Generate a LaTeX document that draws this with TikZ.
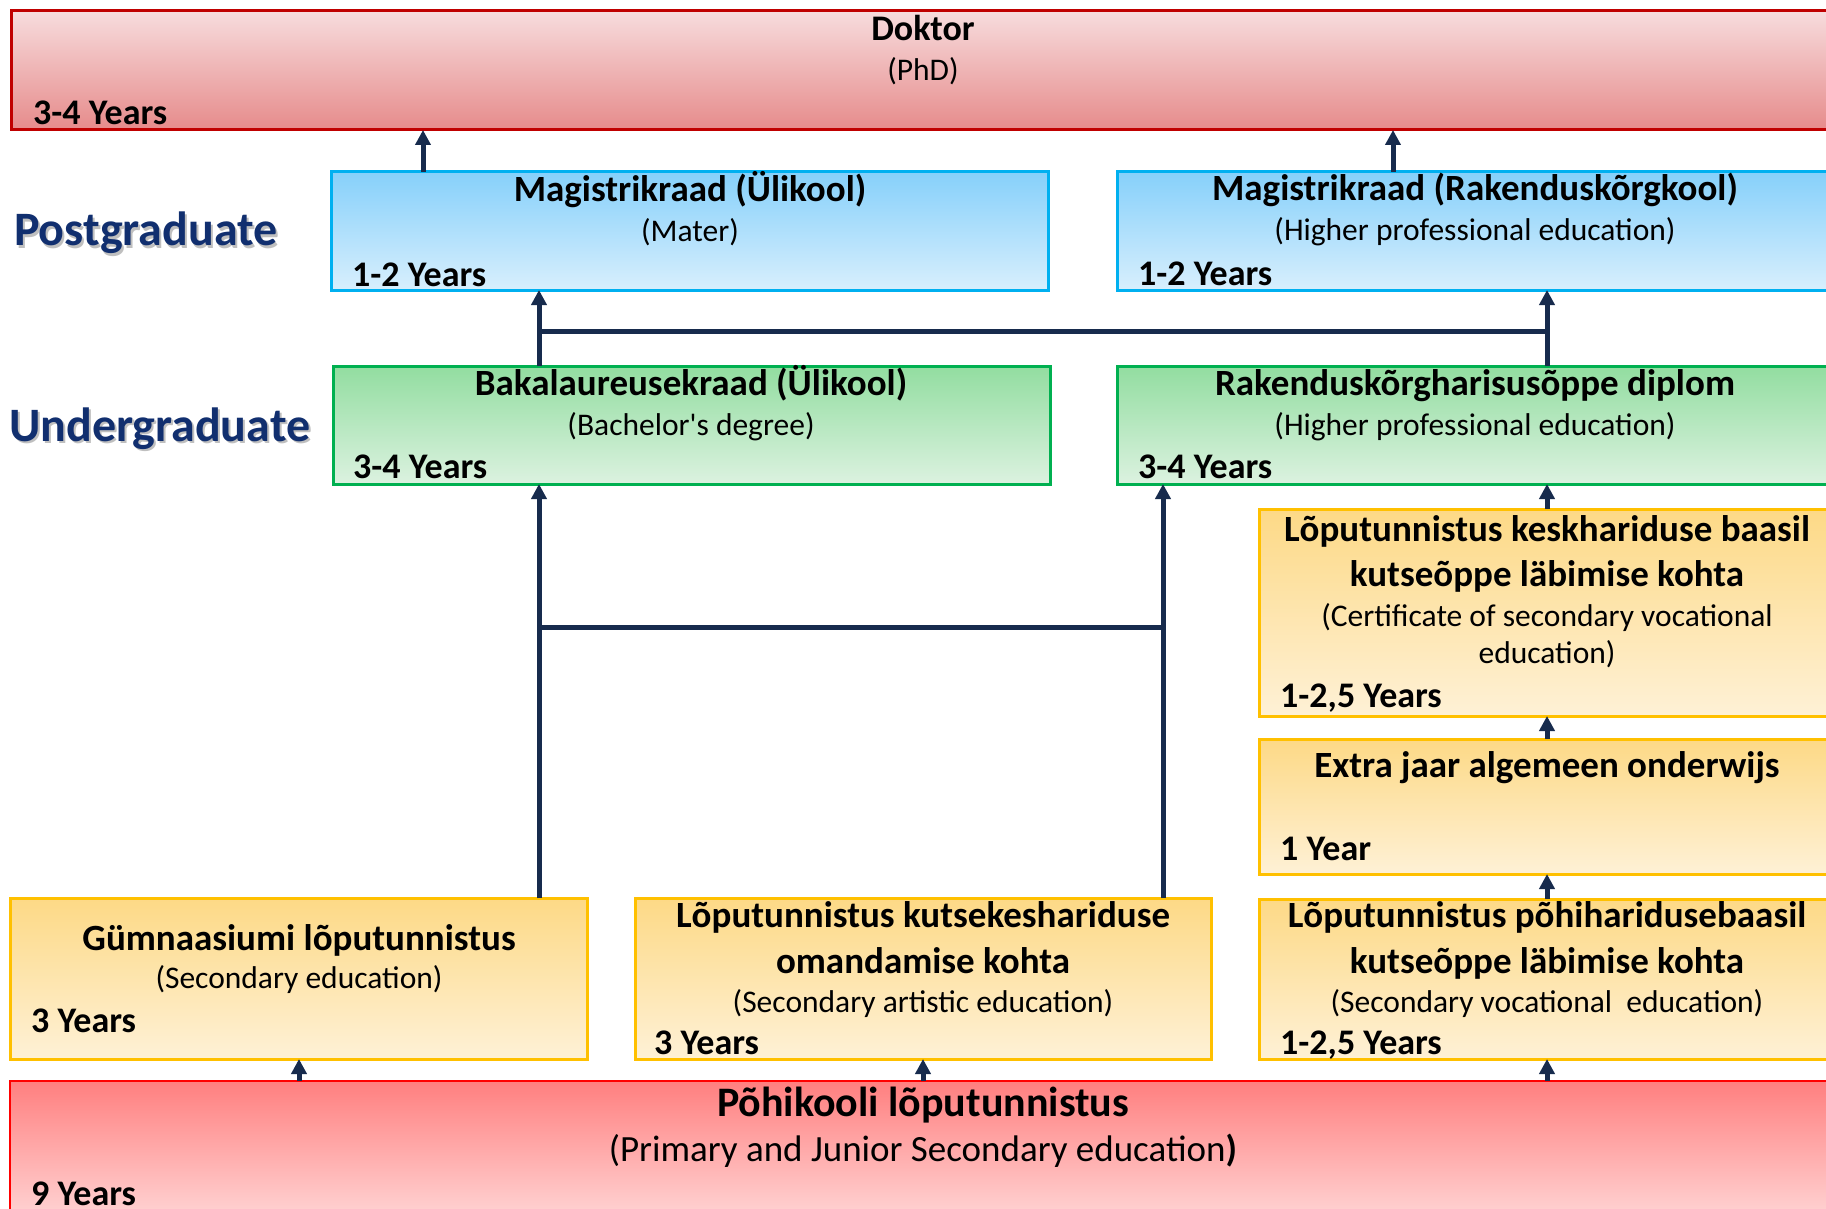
\documentclass[tikz,border=0pt]{standalone}
\usepackage{fontspec}
\setmainfont{Carlito}
\usetikzlibrary{arrows.meta}
\definecolor{navyline}{HTML}{172B4D}
\definecolor{dred}{HTML}{C00000}
\definecolor{dtop}{HTML}{F7DCDD}
\definecolor{dbot}{HTML}{E68B8B}
\definecolor{bline}{HTML}{00B0F0}
\definecolor{btop}{HTML}{86D0FA}
\definecolor{bbot}{HTML}{D8EFFD}
\definecolor{gline}{HTML}{00B050}
\definecolor{gtop}{HTML}{92DDA0}
\definecolor{gbot}{HTML}{DCF2E0}
\definecolor{yline}{HTML}{FFC000}
\definecolor{ytop}{HTML}{FDD986}
\definecolor{ybot}{HTML}{FEF1D6}
\definecolor{rline}{HTML}{FF0000}
\definecolor{rtop}{HTML}{FF7F7F}
\definecolor{rbot}{HTML}{FFD6D6}
\definecolor{lblcol}{HTML}{112F6F}
\tikzset{
  box/.style={rectangle, line width=3pt, anchor=north west, inner sep=0pt, outer sep=0pt},
  dokbox/.style={box, draw=dred, top color=dtop, bottom color=dbot},
  bluebox/.style={box, draw=bline, top color=btop, bottom color=bbot},
  greenbox/.style={box, draw=gline, top color=gtop, bottom color=gbot},
  yelbox/.style={box, draw=yline, top color=ytop, bottom color=ybot},
  redbox/.style={box, draw=rline, line width=2.5pt, top color=rtop, bottom color=rbot},
  ttl/.style={font=\bfseries\fontsize{37}{44}\selectfont, inner sep=0pt, text height=23pt, text depth=0pt},
  sub/.style={font=\fontsize{31.5}{37}\selectfont, inner sep=0pt, text height=19.8pt, text depth=0pt},
  yrs/.style={font=\bfseries\fontsize{36}{43}\selectfont, inner sep=0pt, text height=22.7pt, text depth=0pt, anchor=west},
  lbl/.style={font=\bfseries\fontsize{48}{56}\selectfont, inner sep=0pt, anchor=west, text height=30pt, text depth=0pt},
  conn/.style={line width=5pt, draw=navyline, -{Triangle[length=15pt,width=15pt]}},
  link/.style={line width=5pt, draw=navyline},
}
\begin{document}
\begin{tikzpicture}[x=1pt,y=-1pt]
\useasboundingbox (0,0) rectangle (1826,1209);
\fill[white] (0,0) rectangle (1826,1209);

% boxes
\node[dokbox, minimum width=1840pt, minimum height=119pt] (dok) at (11,11) {};
\node[bluebox, minimum width=717pt, minimum height=118pt] (mu) at (331,172) {};
\node[bluebox, minimum width=730pt, minimum height=118pt] (mr) at (1117,172) {};
\node[greenbox, minimum width=717pt, minimum height=118pt] (bu) at (333,366) {};
\node[greenbox, minimum width=730pt, minimum height=118pt] (br) at (1117,366) {};
\node[yelbox, minimum width=600pt, minimum height=207pt] (kesk) at (1259,509) {};
\node[yelbox, minimum width=600pt, minimum height=135pt] (extra) at (1259,739) {};
\node[yelbox, minimum width=600pt, minimum height=160pt] (pohib) at (1259,899) {};
\node[yelbox, minimum width=577pt, minimum height=161pt] (gym) at (10,898) {};
\node[yelbox, minimum width=576pt, minimum height=161pt] (kutse) at (635,898) {};
\node[redbox, minimum width=1840pt, minimum height=140pt] (pohik) at (10,1081) {};

% side labels
\node[lbl, text=black!25] (pgs) at (16,233) {Postgraduate};
\node[lbl, text=lblcol] (pg) at (14,231) {Postgraduate};
\node[lbl, text=black!25] (ugs) at (11,428) {Undergraduate};
\node[lbl, text=lblcol] (ug) at (9,426) {Undergraduate};

% Doktor
\node[ttl, font=\bfseries\fontsize{36}{43}\selectfont] (t1) at (923,29) {Doktor};
\node[sub] (t2) at (923,71) {(PhD)};
\node[yrs] (t3) at (33,113) {3-4 Years};

% Magistrikraad Ulikool
\node[ttl] (t4) at (690,190) {Magistrikraad (Ülikool)};
\node[sub] (t5) at (690,232) {(Mater)};
\node[yrs] (t6) at (352,275) {1-2 Years};

% Magistrikraad Rakenduskorgkool
\node[ttl] (t7) at (1475,189) {Magistrikraad (Rakenduskõrgkool)};
\node[sub] (t8) at (1475,231) {(Higher professional education)};
\node[yrs] (t9) at (1138,274) {1-2 Years};

% Bakalaureusekraad
\node[ttl] (t10) at (691,384) {Bakalaureusekraad (Ülikool)};
\node[sub] (t11) at (691,426) {(Bachelor\textquotesingle s degree)};
\node[yrs] (t12) at (353,467) {3-4 Years};

% Rakenduskorgharisusoppe
\node[ttl] (t13) at (1475,384) {Rakenduskõrgharisusõppe diplom};
\node[sub] (t14) at (1475,426) {(Higher professional education)};
\node[yrs] (t15) at (1138,467) {3-4 Years};

% keskhariduse
\node[ttl] (t16) at (1547,530) {Lõputunnistus keskhariduse baasil};
\node[ttl] (t17) at (1547,575) {kutseõppe läbimise kohta};
\node[sub] (t18) at (1547,617) {(Certificate of secondary vocational};
\node[sub] (t19) at (1547,654) {education)};
\node[yrs] (t20) at (1280,696) {1-2,5 Years};

% Extra jaar
\node[ttl] (t21) at (1547,766) {Extra jaar algemeen onderwijs};
\node[yrs] (t22) at (1280,849) {1 Year};

% pohiharidusebaasil
\node[ttl] (t23) at (1547,916) {Lõputunnistus põhiharidusebaasil};
\node[ttl] (t24) at (1547,962) {kutseõppe läbimise kohta};
\node[sub] (t25) at (1547,1003) {(Secondary vocational\ \ education)};
\node[yrs] (t26) at (1280,1043) {1-2,5 Years};

% Gymnaasiumi
\node[ttl] (t27) at (299,939) {Gümnaasiumi lõputunnistus};
\node[sub] (t28) at (299,979) {(Secondary education)};
\node[yrs] (t29) at (31,1021) {3 Years};

% kutsekeshariduse
\node[ttl] (t30) at (923,916) {Lõputunnistus kutsekeshariduse};
\node[ttl] (t31) at (923,962) {omandamise kohta};
\node[sub] (t32) at (923,1003) {(Secondary artistic education)};
\node[yrs] (t33) at (654,1043) {3 Years};

% Pohikooli
\node[ttl, font=\bfseries\fontsize{42}{50}\selectfont, text height=26pt] (t34) at (923,1103) {Põhikooli lõputunnistus};
\node[sub, font=\fontsize{37}{44}\selectfont, text height=23pt] (t35) at (923,1150) {(Primary and Junior Secondary education\textbf{)}};
\node[yrs] (t36) at (31,1194) {9 Years};

% connector x positions
\coordinate (xd1) at (423,0);
\coordinate (xd2) at (1393,0);
\coordinate (xa) at (539,0);
\coordinate (xr) at (1547,0);
\coordinate (xk) at (1163,0);
\coordinate (xg) at (299,0);
\coordinate (xm) at (923,0);
\coordinate (yh1) at (0,331);
\coordinate (yh2) at (0,627);

% connectors
\draw[conn] (mu.north -| xd1) -- (dok.south -| xd1);
\draw[conn] (mr.north -| xd2) -- (dok.south -| xd2);
\draw[conn] (bu.north -| xa) -- (mu.south -| xa);
\draw[conn] (br.north -| xr) -- (mr.south -| xr);
\draw[link] (xa |- yh1) -- (xr |- yh1);
\draw[conn] (gym.north -| xa) -- (bu.south -| xa);
\draw[conn] (kutse.north -| xk) -- (br.south -| xk);
\draw[link] (xa |- yh2) -- (xk |- yh2);
\draw[conn] (kesk.north -| xr) -- (br.south -| xr);
\draw[conn] (extra.north -| xr) -- (kesk.south -| xr);
\draw[conn] (pohib.north -| xr) -- (extra.south -| xr);
\draw[conn] (pohik.north -| xr) -- (pohib.south -| xr);
\draw[conn] (pohik.north -| xg) -- (gym.south -| xg);
\draw[conn] (pohik.north -| xm) -- (kutse.south -| xm);
\end{tikzpicture}
\end{document}
